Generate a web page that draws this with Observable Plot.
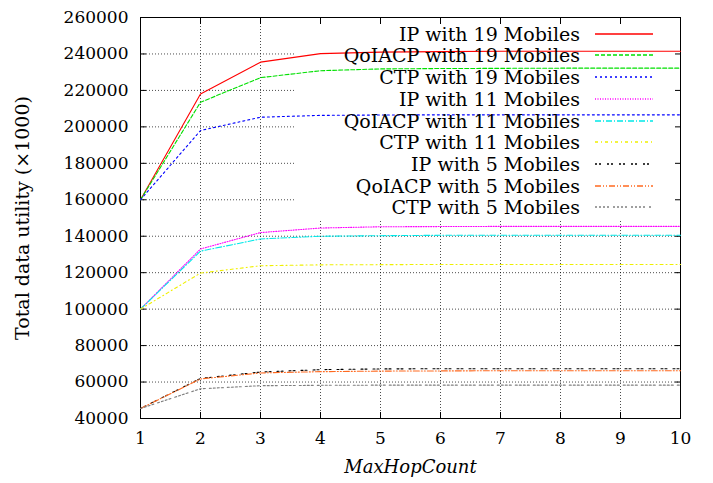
<!DOCTYPE html>
<html>
<head>
<meta charset="utf-8">
<script src="https://cdn.jsdelivr.net/npm/d3@7"></script>
<script src="https://cdn.jsdelivr.net/npm/@observablehq/plot@0.6"></script>
<style>
  html, body { margin: 0; padding: 0; background: #fff; }
</style>
</head>
<body>
<div id="chart"></div>
<script>
const hops = [1, 2, 3, 4, 5, 6, 7, 8, 9, 10];
const xTicks = [1, 2, 3, 4, 5, 6, 7, 8, 9, 10];
const yTicks = [40000, 60000, 80000, 100000, 120000, 140000, 160000, 180000, 200000, 220000, 240000, 260000];

const seriesNames = [
  "IP with 19 Mobiles", "QoIACP with 19 Mobiles", "CTP with 19 Mobiles",
  "IP with 11 Mobiles", "QoIACP with 11 Mobiles", "CTP with 11 Mobiles",
  "IP with 5 Mobiles", "QoIACP with 5 Mobiles", "CTP with 5 Mobiles"
];

const ip19     = [160000, 218000, 235500, 240200, 241000, 241300, 241500, 241500, 241500, 241500];
const qoiacp19 = [160000, 213500, 227000, 230800, 231800, 232000, 232100, 232200, 232200, 232200];
const ctp19    = [160000, 198000, 205300, 206300, 206500, 206600, 206600, 206600, 206600, 206600];
const ip11     = [100000, 133000, 142000, 144500, 145200, 145300, 145400, 145400, 145400, 145400];
const qoiacp11 = [100000, 131800, 138500, 140000, 140300, 140500, 140500, 140500, 140500, 140500];
const ctp11    = [100000, 119800, 123800, 124300, 124400, 124500, 124500, 124500, 124500, 124500];
const ip5      = [45500, 62000, 65500, 66800, 67200, 67300, 67300, 67300, 67300, 67300];
const qoiacp5  = [45500, 61700, 65000, 65700, 66000, 66100, 66200, 66200, 66200, 66200];
const ctp5     = [45500, 56300, 58000, 58200, 58300, 58300, 58300, 58300, 58300, 58300];

const seriesValues = [ip19, qoiacp19, ctp19, ip11, qoiacp11, ctp11, ip5, qoiacp5, ctp5];

const colors = ["#ff0000", "#00e000", "#0000ff", "#ff00ff", "#00e8e8", "#f0f000", "#000000", "#ff6a20", "#808080"];
const dashes = ["none", "4,2", "2,3", "1,1.5", "6,2,1,2", "3,3,1,3", "2,2,2,6", "6,2,1,2,1,2", "2,2,2,2,2,2,2,4"];

const fontFamily = "DejaVu Serif";

function legendBg(index, scales, values, dims) {
  const right = dims.width - dims.marginRight;
  const g = d3.create("svg:g");
  g.append("rect")
    .attr("x", right - 384).attr("y", dims.marginTop)
    .attr("width", 384).attr("height", 203)
    .attr("fill", "white");
  return g.node();
}

function legendItems(index, scales, values, dims) {
  const right = dims.width - dims.marginRight;
  const g = d3.create("svg:g");
  seriesNames.forEach((name, i) => {
    const y = Math.round(dims.marginTop + 16.7 + 21.7 * i);
    g.append("text")
      .attr("x", right - 100).attr("y", y)
      .attr("dy", "0.36em")
      .attr("text-anchor", "end")
      .attr("font-family", fontFamily)
      .attr("font-size", 19)
      .attr("fill", "black")
      .text(name);
    g.append("line")
      .attr("x1", right - 85).attr("x2", right - 27)
      .attr("y1", y).attr("y2", y)
      .attr("stroke", colors[i])
      .attr("stroke-width", 1.4)
      .attr("stroke-dasharray", dashes[i]);
  });
  return g.node();
}

const lineMarks = seriesValues.map((vals, i) =>
  Plot.line(hops.map((h, j) => ({x: h, y: vals[j]})), {
    x: "x", y: "y",
    stroke: colors[i],
    strokeWidth: 1.1,
    strokeDasharray: dashes[i]
  })
);

const chart = Plot.plot({
  width: 713,
  height: 483,
  marginLeft: 140,
  marginRight: 33,
  marginTop: 17,
  marginBottom: 65,
  style: {fontFamily: fontFamily, fontSize: "16px", background: "white", color: "black"},
  x: {domain: [1, 10]},
  y: {domain: [40000, 260000]},
  marks: [
    Plot.gridX(xTicks, {stroke: "#000", strokeOpacity: 0.7, strokeDasharray: "1,2"}),
    Plot.gridY(yTicks, {stroke: "#000", strokeOpacity: 0.7, strokeDasharray: "1,2"}),
    legendBg,
    Plot.axisX(xTicks, {anchor: "bottom", tickSize: -6, tickPadding: 19, label: null, fontSize: 17, tickFormat: d => String(d)}),
    Plot.axisX(xTicks, {anchor: "top", tickSize: -6, label: null, tickFormat: () => ""}),
    Plot.axisY(yTicks, {anchor: "left", tickSize: -6, tickPadding: 18, label: null, fontSize: 17, tickFormat: d => String(d)}),
    Plot.axisY(yTicks, {anchor: "right", tickSize: -6, label: null, tickFormat: () => ""}),
    Plot.frame({stroke: "black", strokeWidth: 1}),
    ...lineMarks,
    legendItems,
    Plot.text(["Total data utility (×1000)"], {frameAnchor: "left", dx: -118, rotate: -90, textAnchor: "middle", lineAnchor: "middle", fontSize: 19, fill: "black"}),
    Plot.text(["MaxHopCount"], {frameAnchor: "bottom", dy: 49, textAnchor: "middle", lineAnchor: "middle", fontSize: 18, fontStyle: "italic", fill: "black"})
  ]
});

document.getElementById("chart").appendChild(chart);
</script>
</body>
</html>
